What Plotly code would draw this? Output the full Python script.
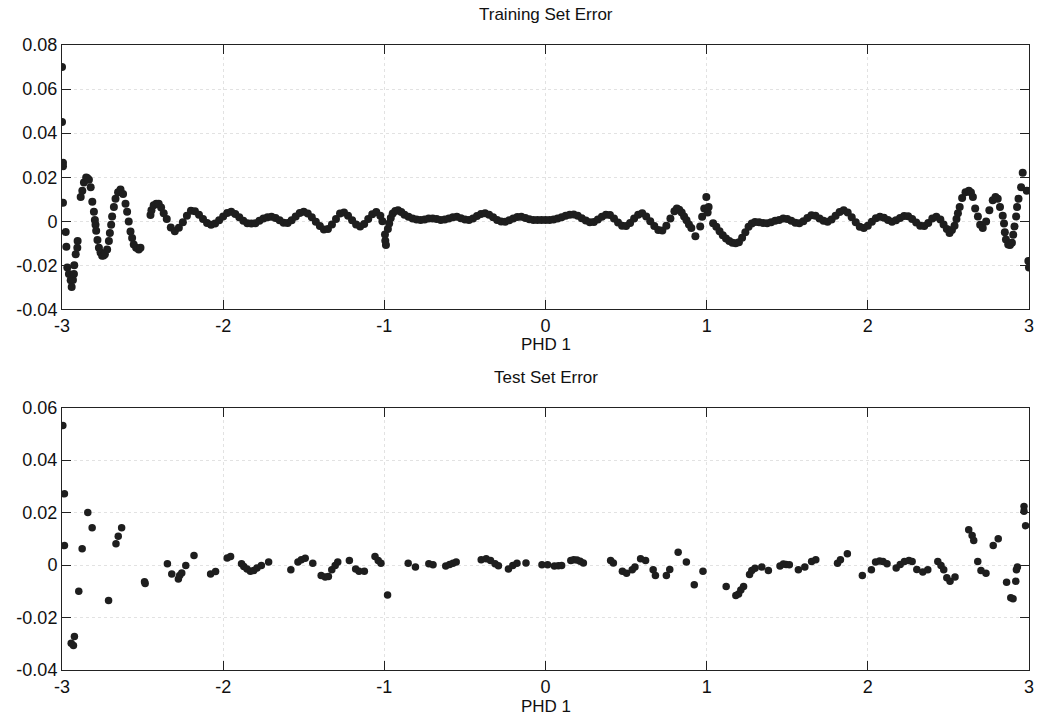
import plotly.graph_objects as go

# ---------------- Training set error (PHD 1 vs error) ----------------
train_x = [
    -3.000, -3.000, -2.994, -2.994, -2.994, -2.977, -2.973, -2.967, -2.957, -2.946,
    -2.940, -2.932, -2.926, -2.924, -2.915, -2.905, -2.903,
    -2.884, -2.874, -2.864, -2.850, -2.842, -2.833, -2.822, -2.812, -2.802, -2.796,
    -2.792, -2.788, -2.780, -2.771, -2.761, -2.751, -2.742, -2.734, -2.720, -2.709,
    -2.703, -2.695, -2.689, -2.678, -2.668, -2.652, -2.637, -2.621, -2.606, -2.596,
    -2.586, -2.575, -2.565, -2.555, -2.540, -2.524, -2.513,
    -2.451, -2.445, -2.431, -2.415, -2.400, -2.385, -2.369,
    -2.350, -2.325, -2.300, -2.275, -2.250, -2.225, -2.200, -2.175, -2.150, -2.125,
    -2.100, -2.075, -2.050, -2.025, -2.000, -1.975, -1.950, -1.925, -1.900, -1.875,
    -1.850, -1.825, -1.800, -1.775, -1.750, -1.725, -1.700, -1.675, -1.650, -1.625,
    -1.600, -1.575, -1.550, -1.525, -1.500, -1.475, -1.450, -1.425, -1.400, -1.375,
    -1.350, -1.325, -1.300, -1.275, -1.250, -1.225, -1.200, -1.175, -1.150, -1.125,
    -1.100, -1.075, -1.050, -1.025,
    -1.012, -0.996, -0.994, -0.990, -0.978, -0.970, -0.960, -0.948, -0.932, -0.915,
    -0.895, -0.875, -0.850, -0.825, -0.800, -0.775, -0.750, -0.725, -0.700, -0.675,
    -0.650, -0.625, -0.600, -0.575, -0.550, -0.525, -0.500, -0.475, -0.450, -0.425,
    -0.400, -0.375, -0.350, -0.325, -0.300, -0.275, -0.250, -0.225, -0.200, -0.175,
    -0.150, -0.125, -0.100, -0.075, -0.050, -0.025, 0.000, 0.025, 0.050, 0.075,
    0.100, 0.125, 0.150, 0.175, 0.200, 0.225, 0.250, 0.275, 0.300, 0.325,
    0.350, 0.375, 0.400, 0.425, 0.450, 0.475, 0.500, 0.525, 0.550, 0.575,
    0.600, 0.625, 0.650, 0.675, 0.700, 0.725, 0.750, 0.775, 0.800, 0.815,
    0.830, 0.845, 0.860, 0.875, 0.890, 0.905, 0.930, 0.960, 0.972, 0.985,
    0.998, 1.012, 1.006,
    1.040, 1.060, 1.080, 1.100, 1.120, 1.140, 1.160, 1.180, 1.200, 1.220,
    1.240, 1.260, 1.280, 1.300, 1.325, 1.350, 1.375, 1.400, 1.425, 1.450,
    1.475, 1.500, 1.525, 1.550, 1.575, 1.600, 1.625, 1.650, 1.675, 1.700,
    1.725, 1.750, 1.775, 1.800, 1.825, 1.850, 1.875, 1.900, 1.925, 1.950,
    1.975, 2.000, 2.025, 2.050, 2.075, 2.100, 2.125, 2.150, 2.175, 2.200,
    2.225, 2.250, 2.275, 2.300, 2.325, 2.350, 2.375, 2.400, 2.425, 2.450,
    2.470, 2.490, 2.507, 2.522, 2.538, 2.550, 2.559, 2.570, 2.585, 2.606,
    2.627, 2.640, 2.652, 2.666, 2.683, 2.697, 2.713, 2.734, 2.754, 2.775,
    2.792, 2.806, 2.820, 2.837, 2.845, 2.850, 2.857, 2.871, 2.882, 2.894,
    2.902, 2.910, 2.920, 2.926, 2.935, 2.951, 2.961, 2.986, 2.996, 3.000,
]
train_y = [
    0.0700, 0.0450, 0.0265, 0.0250, 0.0084, -0.0049, -0.0116, -0.0210, -0.0239, -0.0268,
    -0.0298, -0.0267, -0.0239, -0.0200, -0.0150, -0.0120, -0.0090,
    0.0110, 0.0139, 0.0176, 0.0199, 0.0195, 0.0188, 0.0154, 0.0088, 0.0043, 0.0006,
    -0.0016, -0.0043, -0.0085, -0.0120, -0.0142, -0.0157, -0.0155, -0.0150, -0.0128, -0.0090,
    -0.0053, -0.0016, 0.0021, 0.0065, 0.0102, 0.0132, 0.0144, 0.0124, 0.0080, 0.0043,
    -0.0001, -0.0046, -0.0076, -0.0105, -0.0120, -0.0128, -0.0120,
    0.0028, 0.0050, 0.0073, 0.0080, 0.0080, 0.0062, 0.0036,
    0.0010, -0.0028, -0.0045, -0.0030, -0.0005, 0.0025, 0.0048, 0.0045, 0.0030, 0.0010,
    -0.0008, -0.0016, -0.0010, 0.0005, 0.0022, 0.0038, 0.0043, 0.0033, 0.0018, 0.0002,
    -0.0009, -0.0010, -0.0009, 0.0002, 0.0012, 0.0018, 0.0020, 0.0015, 0.0005, -0.0007,
    -0.0008, 0.0005, 0.0022, 0.0038, 0.0043, 0.0035, 0.0018, -0.0002, -0.0022, -0.0038,
    -0.0035, -0.0015, 0.0010, 0.0035, 0.0040, 0.0025, 0.0005, -0.0015, -0.0024, -0.0012,
    0.0010, 0.0032, 0.0042, 0.0025,
    0.0000, -0.0060, -0.0088, -0.0108, -0.0035, -0.0010, 0.0015, 0.0035, 0.0047, 0.0050,
    0.0042, 0.0030, 0.0020, 0.0012, 0.0008, 0.0006, 0.0008, 0.0012, 0.0013, 0.0010,
    0.0006, 0.0008, 0.0013, 0.0018, 0.0020, 0.0014, 0.0008, 0.0006, 0.0012, 0.0024,
    0.0033, 0.0036, 0.0030, 0.0018, 0.0006, -0.0001, -0.0002, 0.0005, 0.0013, 0.0019,
    0.0020, 0.0015, 0.0009, 0.0006, 0.0006, 0.0006, 0.0006, 0.0006, 0.0008, 0.0012,
    0.0018, 0.0025, 0.0030, 0.0031, 0.0025, 0.0014, 0.0003, -0.0005, -0.0003, 0.0008,
    0.0020, 0.0030, 0.0028, 0.0012, -0.0006, -0.0020, -0.0022, -0.0008, 0.0012, 0.0030,
    0.0036, 0.0022, 0.0000, -0.0022, -0.0040, -0.0042, -0.0020, 0.0012, 0.0045, 0.0058,
    0.0052, 0.0040, 0.0022, 0.0005, -0.0015, -0.0031, -0.0068, -0.0024, 0.0020, 0.0058,
    0.0110, 0.0065, 0.0040,
    -0.0009, -0.0025, -0.0045, -0.0063, -0.0078, -0.0090, -0.0098, -0.0100, -0.0095, -0.0075,
    -0.0050, -0.0025, -0.0010, -0.0003, -0.0005, -0.0008, -0.0009, -0.0005, 0.0002, 0.0006,
    0.0012, 0.0010, 0.0002, -0.0007, -0.0009, 0.0000, 0.0015, 0.0027, 0.0025, 0.0012,
    0.0002, -0.0002, 0.0008, 0.0025, 0.0042, 0.0050, 0.0040, 0.0018, -0.0005, -0.0025,
    -0.0031, -0.0020, -0.0002, 0.0014, 0.0020, 0.0016, 0.0006, -0.0002, 0.0004, 0.0015,
    0.0024, 0.0023, 0.0010, -0.0006, -0.0020, -0.0022, -0.0008, 0.0012, 0.0020, 0.0008,
    -0.0015, -0.0035, -0.0053, -0.0040, -0.0020, 0.0010, 0.0036, 0.0065, 0.0105, 0.0132,
    0.0139, 0.0130, 0.0110, 0.0058, 0.0021, -0.0016, -0.0031, -0.0001, 0.0050, 0.0095,
    0.0110, 0.0102, 0.0065, 0.0025, -0.0010, -0.0050, -0.0083, -0.0105, -0.0108, -0.0098,
    -0.0061, -0.0024, 0.0021, 0.0065, 0.0102, 0.0154, 0.0220, 0.0139, -0.0180, -0.0210,
]

# ---------------- Test set error ----------------
test_x = [
    -2.995, -2.985, -2.985, -2.943, -2.929, -2.923, -2.896, -2.875, -2.840, -2.813,
    -2.711, -2.665, -2.651, -2.630, -2.488, -2.484, -2.346, -2.319, -2.278, -2.270,
    -2.257, -2.232, -2.181, -2.078, -2.047, -1.975, -1.954, -1.886, -1.872, -1.852,
    -1.831, -1.810, -1.790, -1.763, -1.718, -1.580, -1.536, -1.515, -1.491, -1.444,
    -1.392, -1.367, -1.347, -1.326, -1.305, -1.289, -1.217, -1.178, -1.157, -1.124,
    -1.058, -1.038, -1.021, -0.980, -0.852, -0.807, -0.724, -0.698, -0.619, -0.595,
    -0.574, -0.554, -0.399, -0.368, -0.341, -0.313, -0.292, -0.230, -0.203, -0.177,
    -0.121, -0.022, 0.013, 0.055, 0.080, 0.100, 0.157, 0.175, 0.195, 0.215,
    0.235, 0.404, 0.421, 0.477, 0.503, 0.538, 0.555, 0.590, 0.621, 0.668,
    0.682, 0.750, 0.771, 0.823, 0.874, 0.923, 0.977, 1.121, 1.181, 1.198,
    1.212, 1.229, 1.266, 1.280, 1.300, 1.342, 1.383, 1.455, 1.476, 1.493,
    1.513, 1.569, 1.609, 1.651, 1.677, 1.812, 1.830, 1.873, 1.966, 2.022,
    2.048, 2.073, 2.094, 2.119, 2.176, 2.201, 2.227, 2.255, 2.275, 2.304,
    2.341, 2.372, 2.434, 2.454, 2.471, 2.490, 2.510, 2.541, 2.626, 2.647,
    2.657, 2.682, 2.702, 2.733, 2.778, 2.809, 2.861, 2.887, 2.901, 2.918,
    2.922, 2.928, 2.969, 2.969, 2.979,
]
test_y = [
    0.0531, 0.0271, 0.0074, -0.0298, -0.0307, -0.0272, -0.0100, 0.0062, 0.0200, 0.0142,
    -0.0135, 0.0081, 0.0110, 0.0142, -0.0064, -0.0070, 0.0005, -0.0034, -0.0053, -0.0040,
    -0.0030, -0.0002, 0.0036, -0.0034, -0.0025, 0.0027, 0.0032, 0.0005, -0.0006, -0.0015,
    -0.0024, -0.0021, -0.0011, -0.0002, 0.0011, -0.0018, 0.0011, 0.0020, 0.0026, 0.0007,
    -0.0040, -0.0046, -0.0044, -0.0018, -0.0002, 0.0011, 0.0017, -0.0015, -0.0024, -0.0024,
    0.0032, 0.0017, 0.0007, -0.0114, 0.0007, -0.0008, 0.0005, 0.0001, -0.0004, 0.0002,
    0.0007, 0.0011, 0.0020, 0.0024, 0.0017, 0.0005, -0.0003, -0.0015, -0.0002, 0.0007,
    0.0008, 0.0001, 0.0001, -0.0004, -0.0003, -0.0002, 0.0017, 0.0020, 0.0019, 0.0014,
    0.0008, 0.0017, 0.0008, -0.0024, -0.0031, -0.0018, -0.0008, 0.0024, 0.0017, -0.0018,
    -0.0040, -0.0040, -0.0017, 0.0049, 0.0011, -0.0075, -0.0024, -0.0082, -0.0116, -0.0110,
    -0.0095, -0.0082, -0.0036, -0.0021, -0.0012, -0.0008, -0.0021, -0.0004, 0.0004, 0.0002,
    0.0001, -0.0018, -0.0008, 0.0013, 0.0020, 0.0007, 0.0020, 0.0043, -0.0040, -0.0018,
    0.0011, 0.0015, 0.0013, 0.0005, -0.0011, 0.0002, 0.0013, 0.0017, 0.0013, -0.0017,
    -0.0027, -0.0018, 0.0013, -0.0002, -0.0018, -0.0049, -0.0062, -0.0046, 0.0134, 0.0112,
    0.0093, 0.0013, -0.0021, -0.0031, 0.0074, 0.0100, -0.0066, -0.0125, -0.0129, -0.0062,
    -0.0018, -0.0008, 0.0223, 0.0205, 0.0150,
]

x_ticks = [-3, -2, -1, 0, 1, 2, 3]
x_ticktext = ["-3", "-2", "-1", "0", "1", "2", "3"]
y1_ticks = [0.08, 0.06, 0.04, 0.02, 0, -0.02, -0.04]
y1_ticktext = ["0.08", "0.06", "0.04", "0.02", "0", "-0.02", "-0.04"]
y2_ticks = [0.06, 0.04, 0.02, 0, -0.02, -0.04]
y2_ticktext = ["0.06", "0.04", "0.02", "0", "-0.02", "-0.04"]

FONT = "Liberation Sans"
MARK = "#1e1e1e"
TXT = dict(family=FONT, size=17, color="#111111")

fig = go.Figure()
fig.add_trace(go.Scatter(x=train_x, y=train_y, mode="markers", xaxis="x", yaxis="y",
                         marker=dict(size=8, color=MARK), showlegend=False))
fig.add_trace(go.Scatter(x=test_x, y=test_y, mode="markers", xaxis="x2", yaxis="y2",
                         marker=dict(size=7.5, color=MARK), showlegend=False))

axis_common = dict(showline=True, linecolor="#222222", linewidth=1, mirror="allticks",
                   ticks="inside", ticklen=9, tickcolor="#222222", tickwidth=1,
                   showgrid=True, gridcolor="#e2e2e2", griddash="dot", gridwidth=1,
                   zeroline=False, tickfont=dict(family=FONT, size=18, color="#111111"))

fig.update_layout(
    width=1042, height=727,
    margin=dict(l=62, r=8, t=45, b=57),
    paper_bgcolor="white", plot_bgcolor="white",
    xaxis=dict(domain=[0, 1], anchor="y", range=[-3, 3], tickvals=x_ticks,
               ticktext=x_ticktext, **axis_common),
    yaxis=dict(domain=[0.577, 1], anchor="x", range=[-0.04, 0.08], tickvals=y1_ticks,
               ticktext=y1_ticktext, **axis_common),
    xaxis2=dict(domain=[0, 1], anchor="y2", range=[-3, 3], tickvals=x_ticks,
                ticktext=x_ticktext, **axis_common),
    yaxis2=dict(domain=[0, 0.42], anchor="x2", range=[-0.04, 0.06], tickvals=y2_ticks,
                ticktext=y2_ticktext, **axis_common),
    annotations=[
        dict(text="Training Set Error", x=0.5, y=1.048, xref="paper", yref="paper",
             showarrow=False, font=TXT, yanchor="middle"),
        dict(text="PHD 1", x=0.5, y=0.5216, xref="paper", yref="paper",
             showarrow=False, font=TXT, yanchor="middle"),
        dict(text="Test Set Error", x=0.5, y=0.468, xref="paper", yref="paper",
             showarrow=False, font=TXT, yanchor="middle"),
        dict(text="PHD 1", x=0.5, y=-0.058, xref="paper", yref="paper",
             showarrow=False, font=TXT, yanchor="middle"),
    ],
)

fig.write_html("out.html")
